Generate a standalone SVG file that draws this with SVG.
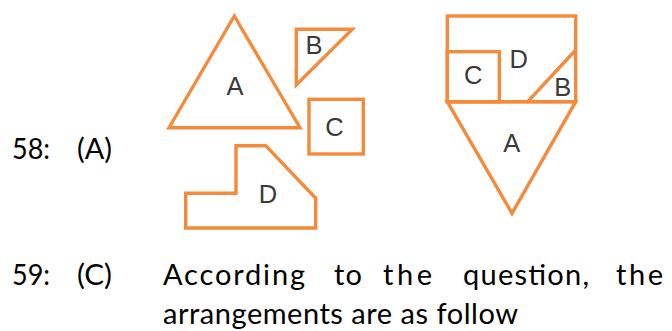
<svg xmlns="http://www.w3.org/2000/svg" width="672" height="331" viewBox="0 0 672 331">
<style>
.s{fill:none;stroke:#F58B3A;stroke-width:3.4;stroke-linejoin:miter}
.l{font-family:"Liberation Sans",Arial,sans-serif;font-size:25.5px;fill:#3a3a3a;text-anchor:middle}
.t{font-family:Lato,"Liberation Sans",sans-serif;font-size:29px;fill:#000}
</style>
<rect width="672" height="331" fill="#fff"/>
<g id="pieceA"><polygon class="s" points="234.3,16 169,127.7 300,127.7"/><text class="l" x="235" y="95">A</text></g>
<g id="pieceB"><polygon class="s" points="296.3,29.3 352.3,29.3 296.3,85"/><text class="l" x="314" y="53.5">B</text></g>
<g id="pieceC"><rect class="s" x="309" y="99.3" width="54.3" height="54.7"/><text class="l" x="334.5" y="136">C</text></g>
<g id="pieceD"><polygon class="s" points="185.7,193.3 236,193.3 236,145.7 265.7,145.7 315.7,198.3 315.7,228 185.7,228"/><text class="l" x="268" y="203">D</text></g>
<g id="assembly">
<rect class="s" x="447.3" y="16" width="128.4" height="85.7"/>
<rect class="s" x="447.3" y="51.7" width="52" height="50"/>
<line class="s" x1="527.7" y1="101.7" x2="575.7" y2="50"/>
<polygon class="s" points="447.3,101.7 575.7,101.7 512,213.3"/>
<text class="l" x="518.7" y="68.3">D</text>
<text class="l" x="473.3" y="84.3">C</text>
<text class="l" x="562.7" y="95.7">B</text>
<text class="l" x="511.7" y="152">A</text>
</g>
<g id="text58">
<text class="t" x="12" y="159" textLength="38" lengthAdjust="spacingAndGlyphs">58:</text>
<text class="t" x="77" y="159" textLength="35" lengthAdjust="spacingAndGlyphs">(A)</text>
</g>
<g id="text59">
<text class="t" x="12" y="285" textLength="38" lengthAdjust="spacingAndGlyphs">59:</text>
<text class="t" x="77" y="285" textLength="35" lengthAdjust="spacingAndGlyphs">(C)</text>
<text class="t" x="163" y="285" textLength="142" lengthAdjust="spacing">According</text>
<text class="t" x="334" y="285" textLength="28" lengthAdjust="spacing">to</text>
<text class="t" x="383" y="285" textLength="49" lengthAdjust="spacing">the</text>
<text class="t" x="463" y="285" textLength="126" lengthAdjust="spacing">question,</text>
<text class="t" x="616" y="285" textLength="47" lengthAdjust="spacing">the</text>
<text class="t" x="163" y="324" textLength="355" lengthAdjust="spacing">arrangements are as follow</text>
</g>
</svg>
